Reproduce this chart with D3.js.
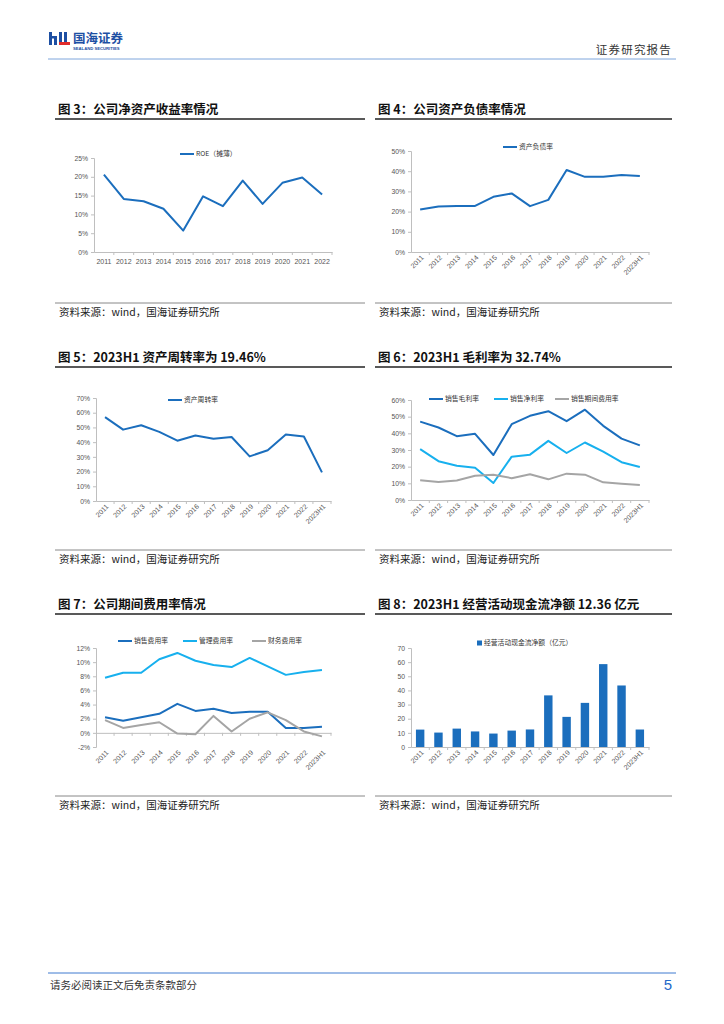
<!DOCTYPE html>
<html>
<head>
<meta charset="utf-8">
<script src="https://d3js.org/d3.v7.min.js"></script>
<style>
  body { margin: 0; background: #fff; }
  text { font-family: "Liberation Sans", "Noto Sans CJK SC", sans-serif; }
  .cjk { font-family: "Noto Sans CJK SC", sans-serif; }
</style>
</head>
<body>
<div id="page"></div>
<script>
// ---- data ----
var years12 = ["2011","2012","2013","2014","2015","2016","2017","2018","2019","2020","2021","2022"];
var years13 = years12.concat(["2023H1"]);

var roe = [20.6, 14.1, 13.5, 11.5, 5.7, 14.8, 12.2, 19.0, 12.8, 18.4, 19.8, 15.3];
var debtRatio = [21.0, 22.5, 22.8, 22.8, 27.3, 29.0, 22.7, 25.8, 40.6, 37.2, 37.2, 38.1, 37.6];
var assetTurnover = [57.0, 48.5, 51.5, 47.0, 41.0, 44.5, 42.3, 43.5, 30.3, 34.5, 45.2, 43.8, 19.46];
var grossMargin = [47.0, 43.5, 38.3, 39.7, 27.0, 45.5, 50.5, 53.3, 47.3, 54.2, 44.5, 36.8, 32.74];
var netMargin = [30.5, 23.3, 20.5, 19.3, 10.2, 26.0, 27.2, 35.5, 28.2, 34.5, 29.0, 22.7, 19.8];
var periodExpRatio = [11.8, 10.8, 11.7, 14.5, 15.2, 13.1, 15.5, 12.4, 15.8, 15.2, 10.6, 9.7, 9.0];
var salesExpRatio = [2.2, 1.7, 2.2, 2.7, 4.1, 3.1, 3.4, 2.8, 3.0, 3.0, 0.7, 0.7, 0.85];
var adminExpRatio = [7.8, 8.5, 8.5, 10.4, 11.3, 10.2, 9.6, 9.3, 10.6, 9.4, 8.2, 8.6, 8.9];
var finExpRatio = [1.8, 0.7, 1.1, 1.5, -0.1, -0.2, 2.4, 0.2, 2.0, 2.9, 1.8, 0.2, -0.5];
var opCashFlow = [12.3, 10.2, 13.0, 11.0, 9.5, 11.6, 12.4, 36.5, 21.3, 31.2, 58.6, 43.5, 12.36];

var ticksPct25 = [0, 5, 10, 15, 20, 25];
var ticksPct50 = [0, 10, 20, 30, 40, 50];
var ticksPct60 = [0, 10, 20, 30, 40, 50, 60];
var ticksPct70 = [0, 10, 20, 30, 40, 50, 60, 70];
var ticksPct12 = [-2, 0, 2, 4, 6, 8, 10, 12];
var ticksCash = [0, 10, 20, 30, 40, 50, 60, 70];

var DARK = "#1b6ebd", LIGHT = "#17b0ee", GRAY = "#a5a5a5";

var svg = d3.select("#page").append("svg")
  .attr("width", 724).attr("height", 1024);

// ---- header ----
var logo = svg.append("g");
logo.append("rect").attr("x", 49).attr("y", 32).attr("width", 3).attr("height", 13).attr("fill", "#1d4fa3");
logo.append("rect").attr("x", 49).attr("y", 36).attr("width", 8).attr("height", 2.5).attr("fill", "#1d4fa3");
logo.append("rect").attr("x", 54).attr("y", 38).attr("width", 3).attr("height", 7).attr("fill", "#1d4fa3");
logo.append("rect").attr("x", 59).attr("y", 32).attr("width", 3).attr("height", 10).attr("fill", "#1d4fa3");
logo.append("rect").attr("x", 64).attr("y", 32).attr("width", 3).attr("height", 10).attr("fill", "#1d4fa3");
logo.append("rect").attr("x", 59).attr("y", 42).attr("width", 11).attr("height", 3).attr("fill", "#e02b2b");
logo.append("text").attr("class", "cjk").attr("x", 73).attr("y", 43)
  .attr("font-size", 12.5).attr("font-weight", "bold").attr("fill", "#1d4fa3").text("国海证券");
logo.append("text").attr("x", 73).attr("y", 50)
  .attr("font-size", 4.2).attr("font-weight", "bold").attr("fill", "#1d4fa3").text("SEALAND SECURITIES");

svg.append("text").attr("class", "cjk").attr("x", 672).attr("y", 54).attr("text-anchor", "end")
  .attr("font-size", 11.5).attr("letter-spacing", 1.2).attr("fill", "#333").text("证券研究报告");
svg.append("line").attr("x1", 48).attr("x2", 676).attr("y1", 59).attr("y2", 59)
  .attr("stroke", "#7ea6dc").attr("stroke-width", 1);

// ---- footer ----
svg.append("line").attr("x1", 48).attr("x2", 676).attr("y1", 973).attr("y2", 973)
  .attr("stroke", "#3f7bd0").attr("stroke-width", 1);
svg.append("text").attr("class", "cjk").attr("x", 50).attr("y", 989)
  .attr("font-size", 10.5).attr("fill", "#333").text("请务必阅读正文后免责条款部分");
svg.append("text").attr("x", 672).attr("y", 990).attr("text-anchor", "end")
  .attr("font-size", 15).attr("fill", "#2469c9").text("5");

// ---- panel frame: title, rule, source ----
function panel(x0, x1, titleY, srcY, title) {
  svg.append("text").attr("class", "cjk").attr("x", x0 + 3).attr("y", titleY)
    .attr("font-size", 12.5).attr("font-weight", "bold").attr("fill", "#111").text(title);
  svg.append("line").attr("x1", x0).attr("x2", x1).attr("y1", titleY + 5).attr("y2", titleY + 5)
    .attr("stroke", "#222").attr("stroke-width", 1.5);
  svg.append("line").attr("x1", x0).attr("x2", x1).attr("y1", srcY).attr("y2", srcY)
    .attr("stroke", "#888").attr("stroke-width", 1);
  svg.append("text").attr("class", "cjk").attr("x", x0 + 4).attr("y", srcY + 13)
    .attr("font-size", 10.5).attr("fill", "#222").text("资料来源：wind，国海证券研究所");
}

// ---- axes ----
function axes(g, c, x, y) {
  var ya = g.append("g").attr("transform", "translate(" + c.x0 + ",0)")
    .call(d3.axisLeft(y).tickValues(c.ticks).tickSize(3).tickPadding(3)
      .tickFormat(function(d) { return c.pct ? d + "%" : d; }));
  ya.select(".domain").attr("stroke", "#bfbfbf");
  ya.selectAll(".tick line").attr("stroke", "#bfbfbf");
  ya.selectAll(".tick text").attr("font-size", 6.8).attr("fill", "#555")
    .attr("font-family", "Liberation Sans, sans-serif");

  var base = y(Math.max(0, c.ticks[0]));
  var xa = g.append("g").attr("transform", "translate(0," + base + ")")
    .call(d3.axisBottom(x).tickSize(0).tickFormat(""));
  xa.select(".domain").attr("stroke", "#bfbfbf");
  var edges = c.cats.map(function(d) { return x(d); });
  edges.push(c.x1);
  g.selectAll(null).data(edges.slice(1)).enter().append("line")
    .attr("x1", function(d) { return d; }).attr("x2", function(d) { return d; })
    .attr("y1", base).attr("y2", base + 3).attr("stroke", "#bfbfbf");

  var labBase = y(c.ticks[0]);
  var labels = g.selectAll(null).data(c.cats).enter().append("text")
    .attr("font-size", 7).attr("fill", "#555").text(function(d) { return d; });
  if (c.rotate) {
    labels.attr("text-anchor", "end")
      .attr("transform", function(d) {
        return "translate(" + (x(d) + x.bandwidth() / 2 + 4) + "," + (labBase + 6) + ") rotate(-45)";
      });
  } else {
    labels.attr("text-anchor", "middle")
      .attr("x", function(d) { return x(d) + x.bandwidth() / 2; })
      .attr("y", labBase + 12);
  }
}

function legendLine(g, lx, ly, color, label) {
  g.append("line").attr("x1", lx).attr("x2", lx + 14).attr("y1", ly).attr("y2", ly)
    .attr("stroke", color).attr("stroke-width", 2);
  g.append("text").attr("class", "cjk").attr("x", lx + 16).attr("y", ly + 2.4)
    .attr("font-size", 6.8).attr("fill", "#333").text(label);
}

function lineChart(c) {
  var g = svg.append("g");
  var x = d3.scaleBand().domain(c.cats).range([c.x0, c.x1]);
  var y = d3.scaleLinear().domain([c.ticks[0], c.ticks[c.ticks.length - 1]]).range([c.yBot, c.yTop]);
  axes(g, c, x, y);
  c.series.forEach(function(s) {
    var line = d3.line()
      .x(function(d, i) { return x(c.cats[i]) + x.bandwidth() / 2; })
      .y(function(d) { return y(d); });
    g.append("path").datum(s.values).attr("d", line)
      .attr("fill", "none").attr("stroke", s.color).attr("stroke-width", 2)
      .attr("stroke-linejoin", "round");
    legendLine(g, s.lx, s.ly, s.color, s.name);
  });
}

function barChart(c) {
  var g = svg.append("g");
  var x = d3.scaleBand().domain(c.cats).range([c.x0, c.x1]);
  var y = d3.scaleLinear().domain([c.ticks[0], c.ticks[c.ticks.length - 1]]).range([c.yBot, c.yTop]);
  var bw = x.bandwidth() * 0.46;
  g.selectAll(null).data(c.values).enter().append("rect")
    .attr("x", function(d, i) { return x(c.cats[i]) + (x.bandwidth() - bw) / 2; })
    .attr("y", function(d) { return y(d); })
    .attr("width", bw)
    .attr("height", function(d) { return y(0) - y(d); })
    .attr("fill", c.color);
  axes(g, c, x, y);
  g.append("rect").attr("x", c.lx).attr("y", c.ly - 2.5).attr("width", 5).attr("height", 5).attr("fill", c.color);
  g.append("text").attr("class", "cjk").attr("x", c.lx + 7).attr("y", c.ly + 2.4)
    .attr("font-size", 6.8).attr("fill", "#333").text(c.name);
}

// ---- panels ----
panel(55, 365, 114, 303, "图 3：公司净资产收益率情况");
panel(375, 672, 114, 303, "图 4：公司资产负债率情况");
panel(55, 365, 362, 550, "图 5：2023H1 资产周转率为 19.46%");
panel(375, 672, 362, 550, "图 6：2023H1 毛利率为 32.74%");
panel(55, 365, 609, 796, "图 7：公司期间费用率情况");
panel(375, 672, 609, 796, "图 8：2023H1 经营活动现金流净额 12.36 亿元");

lineChart({ x0: 94, x1: 332, yTop: 158, yBot: 252, cats: years12, ticks: ticksPct25, pct: true, rotate: false,
  series: [{ name: "ROE（摊薄）", values: roe, color: DARK, lx: 180, ly: 154 }] });

lineChart({ x0: 411, x1: 649, yTop: 151, yBot: 252, cats: years13, ticks: ticksPct50, pct: true, rotate: true,
  series: [{ name: "资产负债率", values: debtRatio, color: DARK, lx: 503, ly: 147 }] });

lineChart({ x0: 96, x1: 331, yTop: 398, yBot: 501, cats: years13, ticks: ticksPct70, pct: true, rotate: true,
  series: [{ name: "资产周转率", values: assetTurnover, color: DARK, lx: 168, ly: 400 }] });

lineChart({ x0: 411, x1: 649, yTop: 400, yBot: 500, cats: years13, ticks: ticksPct60, pct: true, rotate: true,
  series: [
    { name: "销售毛利率", values: grossMargin, color: DARK, lx: 429, ly: 399 },
    { name: "销售净利率", values: netMargin, color: LIGHT, lx: 494, ly: 399 },
    { name: "销售期间费用率", values: periodExpRatio, color: GRAY, lx: 555, ly: 399 }
  ] });

lineChart({ x0: 96, x1: 331, yTop: 648, yBot: 747, cats: years13, ticks: ticksPct12, pct: true, rotate: true,
  series: [
    { name: "管理费用率", values: adminExpRatio, color: LIGHT, lx: 183, ly: 641 },
    { name: "销售费用率", values: salesExpRatio, color: DARK, lx: 118, ly: 641 },
    { name: "财务费用率", values: finExpRatio, color: GRAY, lx: 252, ly: 641 }
  ] });

barChart({ x0: 411, x1: 649, yTop: 648, yBot: 747, cats: years13, ticks: ticksCash, pct: false, rotate: true,
  values: opCashFlow, color: DARK, name: "经营活动现金流净额（亿元）", lx: 477, ly: 643 });
</script>
</body>
</html>
